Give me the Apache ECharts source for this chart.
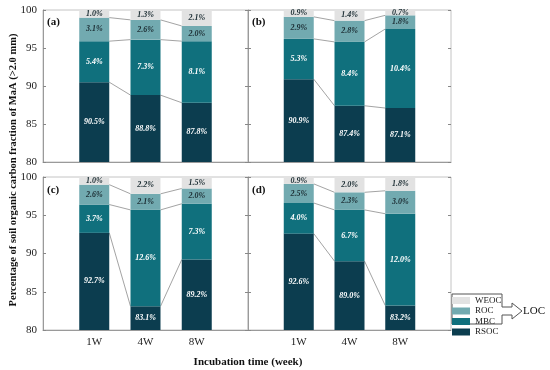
<!DOCTYPE html>
<html>
<head>
<meta charset="utf-8">
<script src="https://cdn.jsdelivr.net/npm/echarts@6/dist/echarts.min.js"></script>
<style>html,body{margin:0;padding:0;background:#fff}#c{width:550px;height:370px}</style>
</head>
<body>
<div id="c"></div>
<script>
const categories = ['1W', '4W', '8W'];
const panelLabels = ['(a)', '(b)', '(c)', '(d)'];
const seriesNames = ['RSOC', 'MBC', 'ROC', 'WEOC'];
const yTicks = [80, 85, 90, 95, 100];
// per panel (a,b,c,d), per category (1W,4W,8W)
const RSOC = [[90.5, 88.8, 87.8], [90.9, 87.4, 87.1], [92.7, 83.1, 89.2], [92.6, 89.0, 83.2]];
const MBC  = [[5.4, 7.3, 8.1], [5.3, 8.4, 10.4], [3.7, 12.6, 7.3], [4.0, 6.7, 12.0]];
const ROC  = [[3.1, 2.6, 2.0], [2.9, 2.8, 1.8], [2.6, 2.1, 2.0], [2.5, 2.3, 3.0]];
const WEOC = [[1.0, 1.3, 2.1], [0.9, 1.4, 0.7], [1.0, 2.2, 1.5], [0.9, 2.0, 1.8]];

const colors = {RSOC: '#0c3d4f', MBC: '#10707d', ROC: '#72aab0', WEOC: '#e2e2e2'};
const labelColors = {RSOC: '#ffffff', MBC: '#ffffff', ROC: '#1c2d33', WEOC: '#1c2d33'};
const valuesByName = {RSOC, MBC, ROC, WEOC};
const FONT = 'Liberation Serif';
const BAR_W = 30;
// padded axis: empty slot before and after the three incubation times
const axisCats = [''].concat(categories, ['']);

const grids = [
  {left: 43, top: 10, width: 205, height: 152},
  {left: 248, top: 10, width: 203, height: 152},
  {left: 43, top: 177, width: 205, height: 153},
  {left: 248, top: 177, width: 203, height: 153}
].map(g => Object.assign(g, {show: true, borderColor: '#c4c4c4', borderWidth: 1, containLabel: false}));

const xAxes = [], yAxes = [], series = [];
grids.forEach((g, gi) => {
  const bottomRow = gi >= 2;
  xAxes.push({
    type: 'category', gridIndex: gi, data: axisCats, boundaryGap: false,
    axisLine: {show: true, lineStyle: {color: '#9a9a9a', width: 1}},
    axisTick: {show: false}, splitLine: {show: false},
    axisLabel: {show: bottomRow, interval: 0, margin: 7, color: '#222', fontFamily: FONT, fontSize: 11}
  });
  const leftCol = gi % 2 === 0;
  yAxes.push({
    type: 'value', gridIndex: gi, min: yTicks[0], max: yTicks[yTicks.length - 1], interval: 5,
    axisLine: {show: true, lineStyle: {color: '#9a9a9a', width: 1}},
    axisTick: {show: true, inside: true, length: 3, lineStyle: {color: '#888'}},
    splitLine: {show: false},
    axisLabel: {show: leftCol, margin: 6, color: '#222', fontFamily: FONT, fontSize: 11}
  });
  yAxes.push({
    type: 'value', gridIndex: gi, position: 'right', min: yTicks[0], max: yTicks[yTicks.length - 1], interval: 5,
    axisLine: {show: false},
    axisTick: {show: true, inside: true, length: 3, lineStyle: {color: '#888'}},
    splitLine: {show: false}, axisLabel: {show: false}
  });
  const yIdx = gi * 2;
  seriesNames.forEach(name => {
    const vals = valuesByName[name][gi];
    series.push({
      type: 'bar', name, xAxisIndex: gi, yAxisIndex: yIdx, stack: 'p' + gi,
      barWidth: BAR_W, clip: true,
      itemStyle: {color: colors[name]},
      label: {show: true, position: 'inside', color: labelColors[name], fontFamily: FONT,
        fontSize: 8, fontStyle: 'italic', fontWeight: 'bold',
        formatter: p => Number(p.value).toFixed(1) + '%'},
      emphasis: {disabled: true},
      data: ['-'].concat(vals, ['-'])
    });
  });
  // connector lines between boundaries of adjacent bars
  const cum = [];
  const lvl1 = RSOC[gi].slice();
  const lvl2 = lvl1.map((v, i) => v + MBC[gi][i]);
  const lvl3 = lvl2.map((v, i) => v + ROC[gi][i]);
  [lvl1, lvl2, lvl3].forEach(lv => {
    for (let i = 0; i < lv.length - 1; i++) cum.push([i + 1, lv[i], lv[i + 1]]);
  });
  series.push({
    type: 'custom', xAxisIndex: gi, yAxisIndex: yIdx, silent: true, z: 1,
    encode: {x: 0, y: [1, 2]},
    renderItem: (params, api) => {
      const x = api.value(0);
      const p1 = api.coord([x, api.value(1)]);
      const p2 = api.coord([x + 1, api.value(2)]);
      return {type: 'line', shape: {x1: p1[0] + BAR_W / 2, y1: p1[1], x2: p2[0] - BAR_W / 2, y2: p2[1]},
        style: {stroke: '#999999', lineWidth: 0.9}};
    },
    data: cum
  });
});

const panelPos = [[47, 17], [252, 17], [47, 185], [252, 185]];
const graphics = panelLabels.map((t, i) => ({
  type: 'text', left: panelPos[i][0], top: panelPos[i][1],
  style: {text: t, font: 'bold 11px "Liberation Serif"', fill: '#111'}
}));
graphics.push({
  type: 'text', x: 13, y: 170, rotation: Math.PI / 2,
  style: {text: 'Percentage of soil organic carbon fraction of MaA (>2.0 mm)',
    font: 'bold 10.5px "Liberation Serif"', fill: '#111', align: 'center', verticalAlign: 'middle'}
});
graphics.push({
  type: 'text', x: 248, y: 362,
  style: {text: 'Incubation time (week)', font: 'bold 11px "Liberation Serif"', fill: '#111',
    align: 'center', verticalAlign: 'middle'}
});
graphics.push({
  type: 'polyline', silent: true,
  shape: {points: [[502, 307], [502, 294], [452, 294], [452, 324], [502, 324], [502, 315], [512, 315], [512, 319], [522, 311], [512, 303], [512, 307], [502, 307]]},
  style: {stroke: '#555', lineWidth: 1, fill: null}
});
graphics.push({
  type: 'text', x: 523, y: 311,
  style: {text: 'LOC', font: '11px "Liberation Serif"', fill: '#111', verticalAlign: 'middle'}
});

const chart = echarts.init(document.getElementById('c'), null, {renderer: 'canvas'});
chart.setOption({
  animation: false,
  backgroundColor: '#fff',
  grid: grids, xAxis: xAxes, yAxis: yAxes, series,
  legend: {
    data: ['WEOC', 'ROC', 'MBC', 'RSOC'], orient: 'vertical', left: 452, top: 296,
    itemWidth: 18, itemHeight: 7, itemGap: 1.5, padding: 0, selectedMode: false,
    icon: 'rect',
    textStyle: {fontFamily: FONT, fontSize: 9, color: '#222', lineHeight: 8}
  },
  graphic: graphics
});
</script>
</body>
</html>
